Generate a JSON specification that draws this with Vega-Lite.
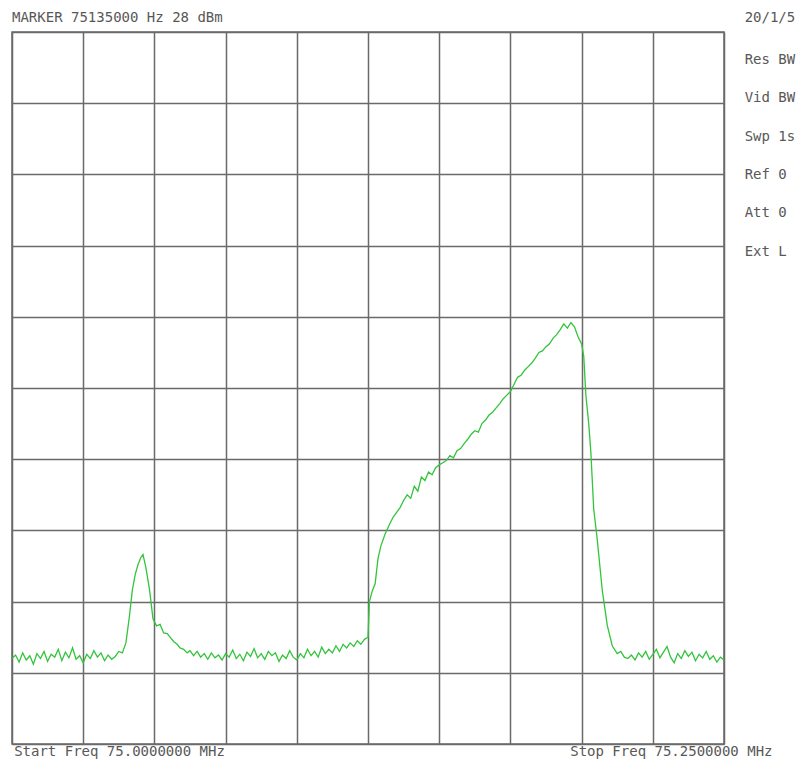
{
  "$schema": "https://vega.github.io/schema/vega-lite/v6.json",
  "width": 712,
  "height": 712,
  "autosize": "none",
  "padding": {"left": 12, "top": 32, "right": 78, "bottom": 18},
  "background": "white",
  "config": {"view": {"stroke": "#6a6a6a", "strokeWidth": 1.5}},
  "layer": [
    {
      "data": {"values": [
        {"x":0.00,"y":1.20},{"x":0.05,"y":1.25},{"x":0.10,"y":1.15},{"x":0.15,"y":1.28},{"x":0.20,"y":1.18},{"x":0.25,"y":1.24},{"x":0.30,"y":1.12},{"x":0.35,"y":1.27},{"x":0.40,"y":1.20},{"x":0.45,"y":1.30},{"x":0.50,"y":1.16},{"x":0.55,"y":1.26},{"x":0.60,"y":1.22},{"x":0.65,"y":1.33},{"x":0.70,"y":1.17},{"x":0.75,"y":1.29},{"x":0.80,"y":1.21},{"x":0.85,"y":1.35},{"x":0.90,"y":1.19},{"x":0.95,"y":1.24},{"x":1.00,"y":1.14},{"x":1.05,"y":1.26},{"x":1.10,"y":1.20},{"x":1.15,"y":1.31},{"x":1.20,"y":1.22},{"x":1.25,"y":1.28},{"x":1.30,"y":1.17},{"x":1.35,"y":1.25},{"x":1.40,"y":1.19},{"x":1.45,"y":1.23},{"x":1.50,"y":1.30},{"x":1.55,"y":1.28},
        {"x":1.60,"y":1.42},{"x":1.65,"y":1.80},{"x":1.69,"y":2.16},{"x":1.73,"y":2.38},{"x":1.77,"y":2.52},{"x":1.81,"y":2.62},{"x":1.84,"y":2.66},{"x":1.88,"y":2.48},{"x":1.93,"y":2.18},{"x":1.98,"y":1.76},{"x":2.03,"y":1.66},{"x":2.08,"y":1.68},{"x":2.13,"y":1.56},{"x":2.18,"y":1.55},{"x":2.22,"y":1.50},{"x":2.27,"y":1.44},{"x":2.32,"y":1.40},{"x":2.36,"y":1.35},{"x":2.41,"y":1.33},{"x":2.46,"y":1.28},{"x":2.50,"y":1.31},{"x":2.55,"y":1.24},{"x":2.60,"y":1.30},{"x":2.65,"y":1.22},{"x":2.70,"y":1.27},{"x":2.75,"y":1.19},{"x":2.80,"y":1.28},{"x":2.85,"y":1.21},{"x":2.90,"y":1.25},{"x":2.95,"y":1.18},{"x":3.00,"y":1.27},{"x":3.05,"y":1.22},{"x":3.10,"y":1.32},{"x":3.15,"y":1.20},{"x":3.20,"y":1.26},{"x":3.25,"y":1.17},{"x":3.30,"y":1.29},{"x":3.35,"y":1.23},{"x":3.40,"y":1.34},{"x":3.45,"y":1.21},{"x":3.50,"y":1.27},{"x":3.55,"y":1.19},{"x":3.60,"y":1.30},{"x":3.65,"y":1.24},{"x":3.70,"y":1.28},{"x":3.75,"y":1.16},{"x":3.80,"y":1.25},{"x":3.85,"y":1.20},{"x":3.90,"y":1.31},{"x":3.95,"y":1.22},{"x":4.00,"y":1.18},{"x":4.05,"y":1.27},{"x":4.10,"y":1.21},{"x":4.15,"y":1.33},{"x":4.20,"y":1.24},{"x":4.25,"y":1.30},{"x":4.30,"y":1.22},{"x":4.35,"y":1.36},{"x":4.40,"y":1.27},{"x":4.45,"y":1.33},{"x":4.50,"y":1.28},{"x":4.55,"y":1.38},{"x":4.60,"y":1.30},{"x":4.65,"y":1.40},{"x":4.70,"y":1.35},{"x":4.75,"y":1.42},{"x":4.80,"y":1.37},{"x":4.85,"y":1.45},{"x":4.90,"y":1.40},{"x":4.95,"y":1.47},{"x":5.00,"y":1.50},
        {"x":5.02,"y":2.00},{"x":5.06,"y":2.15},{"x":5.10,"y":2.25},{"x":5.14,"y":2.60},{"x":5.18,"y":2.78},{"x":5.24,"y":2.95},{"x":5.30,"y":3.08},{"x":5.35,"y":3.18},{"x":5.40,"y":3.25},{"x":5.45,"y":3.32},{"x":5.50,"y":3.42},{"x":5.55,"y":3.50},{"x":5.60,"y":3.45},{"x":5.65,"y":3.62},{"x":5.70,"y":3.55},{"x":5.75,"y":3.75},{"x":5.80,"y":3.70},{"x":5.85,"y":3.82},{"x":5.90,"y":3.78},{"x":5.95,"y":3.88},{"x":6.00,"y":3.92},{"x":6.05,"y":3.95},{"x":6.10,"y":3.98},{"x":6.15,"y":4.05},{"x":6.20,"y":4.02},{"x":6.25,"y":4.12},{"x":6.30,"y":4.15},{"x":6.35,"y":4.22},{"x":6.40,"y":4.28},{"x":6.45,"y":4.35},{"x":6.50,"y":4.40},{"x":6.55,"y":4.38},{"x":6.60,"y":4.50},{"x":6.65,"y":4.55},{"x":6.70,"y":4.62},{"x":6.75,"y":4.66},{"x":6.80,"y":4.72},{"x":6.85,"y":4.78},{"x":6.90,"y":4.85},{"x":6.95,"y":4.90},{"x":7.00,"y":4.95},{"x":7.05,"y":5.05},{"x":7.10,"y":5.15},{"x":7.15,"y":5.18},{"x":7.20,"y":5.25},{"x":7.25,"y":5.30},{"x":7.30,"y":5.35},{"x":7.35,"y":5.42},{"x":7.40,"y":5.50},{"x":7.45,"y":5.52},{"x":7.50,"y":5.58},{"x":7.55,"y":5.62},{"x":7.60,"y":5.70},{"x":7.65,"y":5.75},{"x":7.70,"y":5.82},{"x":7.75,"y":5.90},{"x":7.80,"y":5.84},{"x":7.85,"y":5.92},{"x":7.90,"y":5.86},{"x":7.95,"y":5.72},{"x":8.00,"y":5.62},{"x":8.03,"y":5.45},{"x":8.06,"y":4.90},{"x":8.10,"y":4.50},{"x":8.13,"y":4.10},{"x":8.17,"y":3.30},{"x":8.22,"y":2.87},{"x":8.29,"y":2.16},{"x":8.36,"y":1.67},{"x":8.43,"y":1.38},{"x":8.50,"y":1.27},{"x":8.55,"y":1.30},{"x":8.60,"y":1.22},{"x":8.65,"y":1.20},{"x":8.70,"y":1.25},{"x":8.75,"y":1.18},{"x":8.80,"y":1.28},{"x":8.85,"y":1.22},{"x":8.90,"y":1.30},{"x":8.95,"y":1.19},{"x":9.00,"y":1.26},{"x":9.05,"y":1.33},{"x":9.10,"y":1.21},{"x":9.15,"y":1.29},{"x":9.20,"y":1.37},{"x":9.25,"y":1.22},{"x":9.30,"y":1.14},{"x":9.35,"y":1.27},{"x":9.40,"y":1.20},{"x":9.45,"y":1.31},{"x":9.50,"y":1.23},{"x":9.55,"y":1.29},{"x":9.60,"y":1.17},{"x":9.65,"y":1.26},{"x":9.70,"y":1.21},{"x":9.75,"y":1.30},{"x":9.80,"y":1.19},{"x":9.85,"y":1.24},{"x":9.90,"y":1.15},{"x":9.95,"y":1.22},{"x":10.00,"y":1.18}
      ]},
      "mark": {"type": "line", "color": "#33c43c", "strokeWidth": 1.3},
      "encoding": {
        "x": {"field": "x", "type": "quantitative", "scale": {"domain": [0, 10], "nice": false},
          "axis": {"values": [0,1,2,3,4,5,6,7,8,9,10], "grid": true, "gridColor": "#6a6a6a", "gridWidth": 1.5, "gridOpacity": 1, "labels": false, "ticks": false, "domain": false, "title": null}},
        "y": {"field": "y", "type": "quantitative", "scale": {"domain": [0, 10], "nice": false},
          "axis": {"values": [0,1,2,3,4,5,6,7,8,9,10], "grid": true, "gridColor": "#6a6a6a", "gridWidth": 1.5, "gridOpacity": 1, "labels": false, "ticks": false, "domain": false, "title": null}}
      }
    },
    {
      "data": {"values": [
        {"label": "MARKER 75135000 Hz 28 dBm", "tx": 0.0, "ty": 10.2},
        {"label": "20/1/5", "tx": 10.29, "ty": 10.2},
        {"label": "Res BW", "tx": 10.29, "ty": 9.61},
        {"label": "Vid BW", "tx": 10.29, "ty": 9.07},
        {"label": "Swp 1s", "tx": 10.29, "ty": 8.53},
        {"label": "Ref 0", "tx": 10.29, "ty": 7.99},
        {"label": "Att 0", "tx": 10.29, "ty": 7.46},
        {"label": "Ext L", "tx": 10.29, "ty": 6.91},
        {"label": "Start Freq 75.0000000 MHz", "tx": 0.03, "ty": -0.11},
        {"label": "Stop Freq 75.2500000 MHz", "tx": 7.84, "ty": -0.11}
      ]},
      "mark": {"type": "text", "align": "left", "baseline": "middle", "clip": false, "font": "DejaVu Sans Mono", "fontSize": 14, "color": "#585858"},
      "encoding": {
        "x": {"field": "tx", "type": "quantitative"},
        "y": {"field": "ty", "type": "quantitative"},
        "text": {"field": "label"}
      }
    }
  ]
}
